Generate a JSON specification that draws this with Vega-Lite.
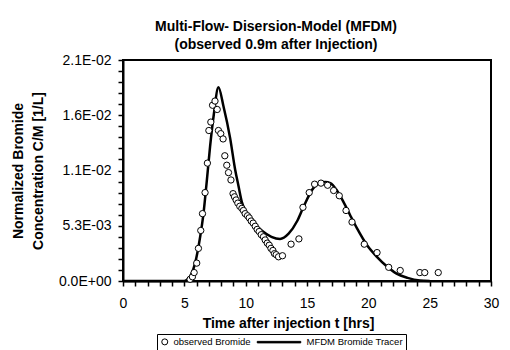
{
  "$schema": "https://vega.github.io/schema/vega-lite/v6.json",
  "width": 368,
  "height": 221,
  "autosize": {"type": "none"},
  "padding": {"left": 123, "top": 60, "right": 19, "bottom": 69},
  "background": "white",
  "title": {
    "text": ["Multi-Flow- Disersion-Model (MFDM)", "(observed 0.9m after Injection)"],
    "font": "Liberation Sans",
    "fontSize": 14,
    "fontWeight": "bold",
    "lineHeight": 18,
    "color": "black",
    "anchor": "middle",
    "frame": "group",
    "dx": -31,
    "offset": 1
  },
  "config": {
    "view": {"stroke": "black", "strokeWidth": 2},
    "axis": {
      "labelFont": "Liberation Sans",
      "labelFontSize": 14,
      "labelColor": "black",
      "titleFont": "Liberation Sans",
      "titleFontSize": 14,
      "titleFontWeight": "bold",
      "titleColor": "black",
      "domainColor": "black",
      "domainWidth": 2,
      "tickColor": "black",
      "tickWidth": 1.5,
      "tickSize": 5,
      "grid": false,
      "labelOverlap": false,
      "labelFlush": false,
      "labelBound": false
    }
  },
  "data": {
    "values": [
      {"series": "MFDM Bromide Tracer", "t": 0, "c": 0},
      {"series": "MFDM Bromide Tracer", "t": 5.0, "c": 0},
      {"series": "MFDM Bromide Tracer", "t": 5.3, "c": 0.0002},
      {"series": "MFDM Bromide Tracer", "t": 5.55, "c": 0.0006},
      {"series": "MFDM Bromide Tracer", "t": 5.88, "c": 0.0017},
      {"series": "MFDM Bromide Tracer", "t": 6.29, "c": 0.0042},
      {"series": "MFDM Bromide Tracer", "t": 6.56, "c": 0.0064},
      {"series": "MFDM Bromide Tracer", "t": 6.83, "c": 0.0095},
      {"series": "MFDM Bromide Tracer", "t": 7.1, "c": 0.0128},
      {"series": "MFDM Bromide Tracer", "t": 7.4, "c": 0.0158},
      {"series": "MFDM Bromide Tracer", "t": 7.78, "c": 0.0184},
      {"series": "MFDM Bromide Tracer", "t": 8.19, "c": 0.0166},
      {"series": "MFDM Bromide Tracer", "t": 8.73, "c": 0.0136},
      {"series": "MFDM Bromide Tracer", "t": 9.14, "c": 0.0106},
      {"series": "MFDM Bromide Tracer", "t": 9.42, "c": 0.0090},
      {"series": "MFDM Bromide Tracer", "t": 9.69, "c": 0.0075},
      {"series": "MFDM Bromide Tracer", "t": 10.1, "c": 0.0064},
      {"series": "MFDM Bromide Tracer", "t": 10.5, "c": 0.0057},
      {"series": "MFDM Bromide Tracer", "t": 11.3, "c": 0.0048},
      {"series": "MFDM Bromide Tracer", "t": 12.1, "c": 0.0042},
      {"series": "MFDM Bromide Tracer", "t": 12.8, "c": 0.0040},
      {"series": "MFDM Bromide Tracer", "t": 13.5, "c": 0.0045},
      {"series": "MFDM Bromide Tracer", "t": 14.2, "c": 0.0057},
      {"series": "MFDM Bromide Tracer", "t": 14.7, "c": 0.0070},
      {"series": "MFDM Bromide Tracer", "t": 15.5, "c": 0.0088},
      {"series": "MFDM Bromide Tracer", "t": 16.0, "c": 0.0093},
      {"series": "MFDM Bromide Tracer", "t": 16.5, "c": 0.0094},
      {"series": "MFDM Bromide Tracer", "t": 16.9, "c": 0.0093},
      {"series": "MFDM Bromide Tracer", "t": 17.44, "c": 0.0086},
      {"series": "MFDM Bromide Tracer", "t": 17.98, "c": 0.0075},
      {"series": "MFDM Bromide Tracer", "t": 18.5, "c": 0.0063},
      {"series": "MFDM Bromide Tracer", "t": 19.08, "c": 0.0050},
      {"series": "MFDM Bromide Tracer", "t": 19.9, "c": 0.0034},
      {"series": "MFDM Bromide Tracer", "t": 20.7, "c": 0.0023},
      {"series": "MFDM Bromide Tracer", "t": 21.5, "c": 0.0014},
      {"series": "MFDM Bromide Tracer", "t": 22.3, "c": 0.0007},
      {"series": "MFDM Bromide Tracer", "t": 23.2, "c": 0.0003},
      {"series": "MFDM Bromide Tracer", "t": 24.2, "c": 0.00005},
      {"series": "MFDM Bromide Tracer", "t": 25.0, "c": 0},
      {"series": "observed Bromide", "t": 5.47, "c": 0.00016},
      {"series": "observed Bromide", "t": 5.66, "c": 0.0004},
      {"series": "observed Bromide", "t": 5.8, "c": 0.0008},
      {"series": "observed Bromide", "t": 6.01, "c": 0.0017},
      {"series": "observed Bromide", "t": 6.15, "c": 0.0031},
      {"series": "observed Bromide", "t": 6.34, "c": 0.0048},
      {"series": "observed Bromide", "t": 6.48, "c": 0.0064},
      {"series": "observed Bromide", "t": 6.69, "c": 0.0084},
      {"series": "observed Bromide", "t": 6.88, "c": 0.0112},
      {"series": "observed Bromide", "t": 7.0, "c": 0.0143},
      {"series": "observed Bromide", "t": 7.16, "c": 0.0151},
      {"series": "observed Bromide", "t": 7.3, "c": 0.0167},
      {"series": "observed Bromide", "t": 7.5, "c": 0.0171},
      {"series": "observed Bromide", "t": 7.68, "c": 0.0163},
      {"series": "observed Bromide", "t": 7.78, "c": 0.0143},
      {"series": "observed Bromide", "t": 7.97, "c": 0.0140},
      {"series": "observed Bromide", "t": 8.16, "c": 0.0135},
      {"series": "observed Bromide", "t": 8.3, "c": 0.0119},
      {"series": "observed Bromide", "t": 8.46, "c": 0.0110},
      {"series": "observed Bromide", "t": 8.6, "c": 0.0103},
      {"series": "observed Bromide", "t": 8.8, "c": 0.0096},
      {"series": "observed Bromide", "t": 8.97, "c": 0.0083},
      {"series": "observed Bromide", "t": 9.09, "c": 0.0080},
      {"series": "observed Bromide", "t": 9.22, "c": 0.0077},
      {"series": "observed Bromide", "t": 9.36, "c": 0.0074},
      {"series": "observed Bromide", "t": 9.52, "c": 0.0071},
      {"series": "observed Bromide", "t": 9.69, "c": 0.0069},
      {"series": "observed Bromide", "t": 9.82, "c": 0.0067},
      {"series": "observed Bromide", "t": 9.96, "c": 0.0064},
      {"series": "observed Bromide", "t": 10.15, "c": 0.0062},
      {"series": "observed Bromide", "t": 10.29, "c": 0.0060},
      {"series": "observed Bromide", "t": 10.45, "c": 0.0057},
      {"series": "observed Bromide", "t": 10.61, "c": 0.0055},
      {"series": "observed Bromide", "t": 10.78, "c": 0.0052},
      {"series": "observed Bromide", "t": 10.94, "c": 0.0049},
      {"series": "observed Bromide", "t": 11.1, "c": 0.0047},
      {"series": "observed Bromide", "t": 11.27, "c": 0.0044},
      {"series": "observed Bromide", "t": 11.45, "c": 0.0042},
      {"series": "observed Bromide", "t": 11.59, "c": 0.0039},
      {"series": "observed Bromide", "t": 11.76, "c": 0.0036},
      {"series": "observed Bromide", "t": 11.92, "c": 0.0034},
      {"series": "observed Bromide", "t": 12.06, "c": 0.0031},
      {"series": "observed Bromide", "t": 12.22, "c": 0.0029},
      {"series": "observed Bromide", "t": 12.35, "c": 0.0026},
      {"series": "observed Bromide", "t": 12.49, "c": 0.0025},
      {"series": "observed Bromide", "t": 12.68, "c": 0.0023},
      {"series": "observed Bromide", "t": 13.0, "c": 0.0024},
      {"series": "observed Bromide", "t": 13.7, "c": 0.0035},
      {"series": "observed Bromide", "t": 14.34, "c": 0.0040},
      {"series": "observed Bromide", "t": 14.67, "c": 0.0070},
      {"series": "observed Bromide", "t": 15.18, "c": 0.0084},
      {"series": "observed Bromide", "t": 15.62, "c": 0.0092},
      {"series": "observed Bromide", "t": 16.14, "c": 0.0093},
      {"series": "observed Bromide", "t": 16.68, "c": 0.0091},
      {"series": "observed Bromide", "t": 17.17, "c": 0.0086},
      {"series": "observed Bromide", "t": 17.63, "c": 0.0081},
      {"series": "observed Bromide", "t": 18.18, "c": 0.0067},
      {"series": "observed Bromide", "t": 18.67, "c": 0.0056},
      {"series": "observed Bromide", "t": 19.67, "c": 0.0035},
      {"series": "observed Bromide", "t": 20.71, "c": 0.0027},
      {"series": "observed Bromide", "t": 21.66, "c": 0.0013},
      {"series": "observed Bromide", "t": 22.6, "c": 0.0010},
      {"series": "observed Bromide", "t": 24.2, "c": 0.0008},
      {"series": "observed Bromide", "t": 24.6, "c": 0.0008},
      {"series": "observed Bromide", "t": 25.7, "c": 0.0008}
    ]
  },
  "encoding": {
    "x": {
      "field": "t",
      "type": "quantitative",
      "scale": {"domain": [0, 30], "nice": false, "zero": false},
      "axis": {
        "title": "Time after injection t [hrs]",
        "values": [0,1,2,3,4,5,6,7,8,9,10,11,12,13,14,15,16,17,18,19,20,21,22,23,24,25,26,27,28,29,30],
        "labelExpr": "datum.value % 5 == 0 ? datum.label : ''",
        "labelPadding": 10,
        "titleX": 165,
        "titleY": 46,
        "titleBaseline": "alphabetic"
      }
    },
    "y": {
      "field": "c",
      "type": "quantitative",
      "scale": {"domain": [0, 0.021], "nice": false},
      "axis": {
        "title": ["Normalized Bromide", "Concentration C/M [1/L]"],
        "titleLineHeight": 20,
        "titlePadding": 13,
        "values": [0, 0.00105, 0.0021, 0.00315, 0.0042, 0.00525, 0.0063, 0.00735, 0.0084, 0.00945, 0.0105, 0.01155, 0.0126, 0.01365, 0.0147, 0.01575, 0.0168, 0.01785, 0.0189, 0.01995, 0.021],
        "labelExpr": "datum.value == 0 ? '0.0E+00' : abs(datum.value-0.00525) < 1e-7 ? '5.3E-03' : abs(datum.value-0.0105) < 1e-7 ? '1.1E-02' : abs(datum.value-0.01575) < 1e-7 ? '1.6E-02' : abs(datum.value-0.021) < 1e-7 ? '2.1E-02' : ''",
        "labelPadding": 7
      }
    }
  },
  "layer": [
    {
      "transform": [{"filter": "datum.series == 'MFDM Bromide Tracer'"}],
      "mark": {"type": "line", "color": "black", "strokeWidth": 2.5, "interpolate": "monotone"},
      "encoding": {}
    },
    {
      "transform": [{"filter": "datum.series == 'observed Bromide'"}],
      "mark": {"type": "point", "filled": true, "strokeWidth": 1, "size": 40, "opacity": 1},
      "encoding": {
        "shape": {
          "field": "series",
          "type": "nominal",
          "scale": {
            "domain": ["observed Bromide", "MFDM Bromide Tracer"],
            "range": ["circle", "M-13.5,-0.25L1,-0.25L1,0.25L-13.5,0.25Z"]
          },
          "legend": {
            "title": null,
            "orient": "none",
            "legendX": 34,
            "legendY": 274,
            "direction": "horizontal",
            "strokeColor": "black",
            "fillColor": "white",
            "padding": 3,
            "labelFont": "Liberation Sans",
            "labelFontSize": 9.5,
            "labelColor": "black",
            "symbolSize": 36,
            "labelOffset": 4,
            "columnPadding": 4,
            "symbolStrokeWidth": 1
          }
        },
        "fill": {
          "field": "series",
          "type": "nominal",
          "scale": {"domain": ["observed Bromide", "MFDM Bromide Tracer"], "range": ["white", "black"]},
          "legend": {
            "title": null,
            "orient": "none",
            "legendX": 34,
            "legendY": 274,
            "direction": "horizontal",
            "strokeColor": "black",
            "fillColor": "white",
            "padding": 3,
            "labelFont": "Liberation Sans",
            "labelFontSize": 9.5,
            "labelColor": "black",
            "symbolSize": 36,
            "labelOffset": 4,
            "columnPadding": 4,
            "symbolStrokeWidth": 1
          }
        },
        "stroke": {
          "field": "series",
          "type": "nominal",
          "scale": {"domain": ["observed Bromide", "MFDM Bromide Tracer"], "range": ["black", "black"]},
          "legend": {
            "title": null,
            "orient": "none",
            "legendX": 34,
            "legendY": 274,
            "direction": "horizontal",
            "strokeColor": "black",
            "fillColor": "white",
            "padding": 3,
            "labelFont": "Liberation Sans",
            "labelFontSize": 9.5,
            "labelColor": "black",
            "symbolSize": 36,
            "labelOffset": 4,
            "columnPadding": 4,
            "symbolStrokeWidth": 1
          }
        }
      }
    }
  ]
}
